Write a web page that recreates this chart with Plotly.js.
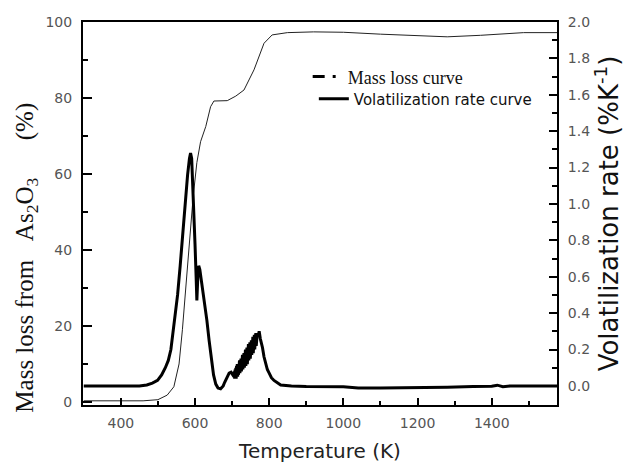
<!DOCTYPE html>
<html>
<head>
<meta charset="utf-8">
<script src="https://cdn.plot.ly/plotly-3.0.1.min.js"></script>
<style>html,body{margin:0;padding:0;background:#fff;}#chart{width:625px;height:470px;}</style>
</head>
<body>
<div id="chart"></div>
<script>
// Mass loss curve (left axis, %)
const massTemperatureK = [300, 400, 460, 500, 525, 543, 557, 566, 575, 585, 595, 605, 615, 629, 642, 651, 670, 687, 710, 732, 759, 786, 808, 849, 920, 1000, 1100, 1200, 1280, 1370, 1486, 1576];
const massLossPct      = [0.3, 0.25, 0.3, 0.6, 1.8, 4.0, 10, 19, 30, 42, 54, 63, 68.5, 72.5, 77.7, 79.2, 79.2, 79.3, 80.5, 82.1, 87.4, 94.4, 96.6, 97.2, 97.4, 97.3, 96.8, 96.4, 96.1, 96.5, 97.2, 97.2];

// Volatilization rate curve (right axis, %/K)
const rateTemperatureK = [300, 350, 400, 450, 470, 485, 499, 510, 520, 528, 535, 541, 547, 553, 560, 567, 574, 580, 585, 588, 591, 594, 597, 600, 603, 605, 606, 608, 610, 613, 618, 625, 632, 638, 644, 650, 656, 662, 669, 676, 680, 687, 692, 697, 701,
  705, 706, 707, 708, 709, 710, 711, 712, 713, 714, 715, 716, 717, 718, 719, 720, 721, 722, 723, 724, 725, 726, 727, 728, 729, 730, 731, 732, 733, 734, 735, 736, 737, 738, 739, 740, 741, 742, 743, 744, 745, 746, 747, 748, 749, 750, 751, 752, 753, 754, 755, 756, 757, 758, 759, 760, 761, 762, 763, 764, 765, 766, 767, 768,
  770, 773, 776, 779, 782, 786, 790, 795, 800, 806, 813, 822, 831, 860, 900, 1000, 1040, 1100, 1200, 1280, 1350, 1400, 1415, 1430, 1450, 1500, 1576];
const volatilizationRate = [0.0, 0.0, 0.0, 0.0, 0.005, 0.015, 0.03, 0.06, 0.1, 0.14, 0.2, 0.3, 0.38, 0.5, 0.66, 0.84, 1.02, 1.16, 1.25, 1.28, 1.25, 1.12, 0.95, 0.78, 0.6, 0.47, 0.52, 0.62, 0.66, 0.64, 0.57, 0.47, 0.36, 0.25, 0.14, 0.06, 0.01, -0.012, -0.016, 0.0, 0.02, 0.05, 0.07, 0.075, 0.06,
  0.05, 0.08, 0.04, 0.09, 0.05, 0.10, 0.04, 0.11, 0.05, 0.12, 0.05, 0.12, 0.06, 0.13, 0.06, 0.14, 0.07, 0.14, 0.07, 0.15, 0.08, 0.16, 0.08, 0.17, 0.09, 0.17, 0.09, 0.18, 0.10, 0.19, 0.10, 0.20, 0.11, 0.20, 0.12, 0.21, 0.12, 0.22, 0.13, 0.23, 0.14, 0.23, 0.14, 0.24, 0.15, 0.25, 0.16, 0.25, 0.17, 0.26, 0.17, 0.27, 0.18, 0.27, 0.19, 0.28, 0.20, 0.28, 0.21, 0.29, 0.22, 0.29, 0.24, 0.29,
  0.27, 0.30, 0.26, 0.24, 0.21, 0.16, 0.12, 0.09, 0.07, 0.045, 0.03, 0.015, 0.005, 0.0, -0.003, -0.005, -0.012, -0.012, -0.012, -0.008, -0.004, -0.002, 0.004, -0.004, 0.0, 0.0, 0.0];

// Tick values
const xTickVals = [400, 600, 800, 1000, 1200, 1400];
const leftTickVals = [0, 20, 40, 60, 80, 100];
const rightTickVals = [0.0, 0.2, 0.4, 0.6, 0.8, 1.0, 1.2, 1.4, 1.6, 1.8, 2.0];

const tickFont = {family: 'DejaVu Sans, Verdana, sans-serif', size: 14, color: '#555'};

const traces = [
  {x: massTemperatureK, y: massLossPct, type: 'scatter', mode: 'lines', yaxis: 'y',
   line: {color: '#222', width: 1}, showlegend: false, hoverinfo: 'skip'},
  {x: rateTemperatureK, y: volatilizationRate, type: 'scatter', mode: 'lines', yaxis: 'y2',
   line: {color: '#000', width: 3}, showlegend: false, hoverinfo: 'skip'},
  {x: [null], y: [null], type: 'scatter', mode: 'lines', yaxis: 'y', legend: 'legend',
   name: 'Mass loss curve',
   line: {color: '#000', width: 3, dash: '12px,8px,3px,40px'}},
  {x: [null], y: [null], type: 'scatter', mode: 'lines', yaxis: 'y2', legend: 'legend2',
   name: 'Volatilization rate curve',
   line: {color: '#000', width: 3}}
];

const layout = {
  width: 625, height: 470,
  margin: {l: 83, r: 68, t: 22, b: 65},
  paper_bgcolor: '#fff', plot_bgcolor: '#fff',
  showlegend: true,
  legend: {x: 0.474, y: 0.857, xanchor: 'left', yanchor: 'middle', bgcolor: 'rgba(0,0,0,0)',
           font: {family: 'Liberation Serif, Times New Roman, serif', size: 18, color: '#111'},
           itemwidth: 30},
  legend2: {x: 0.487, y: 0.799, xanchor: 'left', yanchor: 'middle', bgcolor: 'rgba(0,0,0,0)',
           font: {family: 'DejaVu Sans, Verdana, sans-serif', size: 15, color: '#111'},
           itemwidth: 30},
  xaxis: {range: [298, 1576], showgrid: false, zeroline: false, showline: true, linecolor: '#000', linewidth: 2,
          mirror: true, ticks: 'inside', ticklen: 7, tickwidth: 2, tickcolor: '#000',
          tickvals: xTickVals, tickfont: tickFont, ticklabelstandoff: 4,
          minor: {dtick: 100, ticks: 'inside', ticklen: 4, tickwidth: 2, tickcolor: '#000', showgrid: false},
          title: {text: 'Temperature (K)', font: {family: 'DejaVu Sans, Verdana, sans-serif', size: 20, color: '#222'}, standoff: 14}},
  yaxis: {range: [-0.8, 100], showgrid: false, zeroline: false, showline: true, linecolor: '#000', linewidth: 2,
          ticks: 'inside', ticklen: 9, tickwidth: 2, tickcolor: '#000',
          tickvals: leftTickVals, tickfont: tickFont, ticklabelstandoff: 6,
          minor: {dtick: 10, ticks: 'inside', ticklen: 5, tickwidth: 2, tickcolor: '#000', showgrid: false}},
  yaxis2: {range: [-0.105, 2.0], overlaying: 'y', side: 'right', showgrid: false, zeroline: false,
           showline: true, linecolor: '#000', linewidth: 2,
           ticks: 'inside', ticklen: 8, tickwidth: 2, tickcolor: '#000',
           tickvals: rightTickVals, tickformat: '.1f', tickfont: tickFont, ticklabelstandoff: 6,
           minor: {dtick: 0.1, ticks: 'inside', ticklen: 5, tickwidth: 2, tickcolor: '#000', showgrid: false},
           title: {text: 'Volatilization rate (%K<sup>-1</sup>)', font: {family: 'DejaVu Sans, Verdana, sans-serif', size: 26, color: '#111'}, standoff: 10}},
  annotations: [
    {text: 'Mass loss from&nbsp;&nbsp;&nbsp;As<sub>2</sub>O<sub>3</sub>&nbsp;&nbsp;&nbsp;&nbsp;&nbsp;&nbsp;(%)', xref: 'paper', yref: 'paper',
     x: -0.12, y: 0.385, xanchor: 'center', yanchor: 'middle', textangle: -90, showarrow: false,
     font: {family: 'Liberation Serif, Times New Roman, serif', size: 25, color: '#111'}}
  ]
};

Plotly.newPlot('chart', traces, layout, {staticPlot: true, displayModeBar: false});
</script>
</body>
</html>
